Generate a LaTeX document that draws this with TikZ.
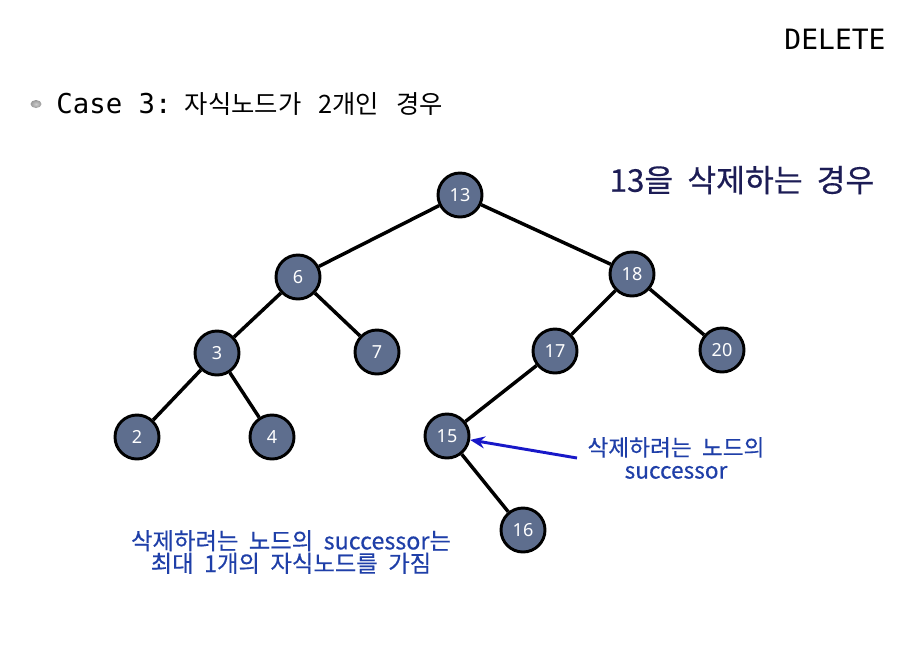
\documentclass[tikz,border=0pt]{standalone}
\usepackage{fontspec}
\usepackage{xcolor}
\usepackage{tikz}
\usetikzlibrary{arrows.meta,automata}
\usetikzlibrary{positioning}
\newfontfamily\krfont[WordSpace=1.2,FakeBold=0.4]{Noto Sans CJK KR}
\newfontfamily\krnote[WordSpace=2.0,FakeBold=0.4]{Noto Sans CJK KR}
\newfontfamily\krwide[WordSpace=3.0]{Noto Sans CJK KR}
\newfontfamily\monofont{DejaVu Sans Mono}
\newfontfamily\numfont{Noto Sans}
\definecolor{nodefill}{HTML}{5E6E8E}
\definecolor{titlenavy}{HTML}{1C1C55}
\definecolor{notebl}{HTML}{1F3FA8}
\definecolor{arrowbl}{HTML}{1818C8}

\begin{document}
\begin{tikzpicture}[x=0.75pt,y=-0.75pt,-,semithick]
	\tikzstyle{every state}=[fill=nodefill, draw=black, text=white, line width=2.2pt, minimum size=33pt, inner sep=0pt, font=\numfont\fontsize{13.5}{15}\selectfont]
	\tikzstyle{note}=[text=notebl, align=center, font=\krnote\fontsize{17.5}{20}\selectfont]
	\useasboundingbox (0,0) rectangle (921,647);

	% headings
	\node (del) at (835,39) {\monofont\fontsize{21}{23}\selectfont DELETE};
	\shade[inner color=gray!40, outer color=gray!80] (36,104) ellipse (5.5 and 4);
	\node[anchor=west, inner sep=0pt] (case) at (56,104) {\monofont\fontsize{20.5}{22}\selectfont Case 3:\hspace{10pt}\krwide\fontsize{19}{22}\selectfont 자식노드가 2개인 경우};
	\node[text=titlenavy] (title) at (742,180) {\krfont\fontsize{23.5}{26}\selectfont 13을 삭제하는 경우};

	% tree
	\node[state] (n13) at (460,195) {13};
	\node[state] (n6)  at (298,277) {6};
	\node[state] (n18) at (632,274) {18};
	\node[state] (n3)  at (217,353) {3};
	\node[state] (n7)  at (377,352) {7};
	\node[state] (n17) at (555,351) {17};
	\node[state] (n20) at (722,350) {20};
	\node[state] (n2)  at (137,437) {2};
	\node[state] (n4)  at (272,437) {4};
	\node[state] (n15) at (447,436) {15};
	\node[state] (n16) at (523,530) {16};

	\foreach \i/\j in {n13/n6,n13/n18,n6/n3,n6/n7,n3/n2,n3/n4,n18/n17,n18/n20,n17/n15,n15/n16}{
		\draw[line width=2.6pt] (\i) -- (\j);
	}

	% notes
	\node[note, font=\krnote\fontsize{17}{19}\selectfont] (succ) at (676,458) {삭제하려는 노드의\\[-2pt]successor};
	\coordinate (tail) at (577,458);
	\draw[arrowbl, line width=2.2pt, -{Stealth[length=11pt,width=9pt]}] (tail) -- (n15);
	\node[note] (rule) at (291,552) {삭제하려는 노드의 successor는\\[-3pt]최대 1개의 자식노드를 가짐};
\end{tikzpicture}
\end{document}
